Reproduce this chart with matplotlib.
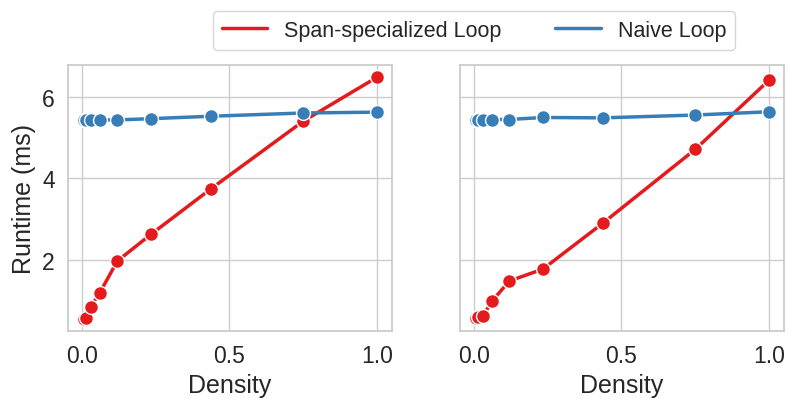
import matplotlib
matplotlib.use("Agg")
import matplotlib.pyplot as plt
import seaborn as sns

sns.set_theme(style="whitegrid", font_scale=1.5)
plt.rcParams['font.family'] = ['Arial', 'Liberation Sans', 'DejaVu Sans']

density = [0.0039, 0.0078, 0.0156, 0.031, 0.0615, 0.121, 0.234, 0.4375, 0.75, 1.0]

left_span = [0.55, 0.56, 0.58, 0.85, 1.19, 1.97, 2.62, 3.74, 5.40, 6.48]
left_naive = [5.43, 5.43, 5.43, 5.43, 5.43, 5.43, 5.46, 5.52, 5.60, 5.62]

right_span = [0.57, 0.58, 0.60, 0.61, 0.98, 1.48, 1.77, 2.90, 4.71, 6.41]
right_naive = [5.43, 5.43, 5.43, 5.43, 5.44, 5.44, 5.49, 5.48, 5.55, 5.63]

series_names = ["Span-specialized Loop", "Naive Loop"]
colors = ["#e41a1c", "#377eb8"]

fig, axes = plt.subplots(1, 2, figsize=(7.97, 4.06), dpi=100, sharey=True)
plt.subplots_adjust(left=68 / 797, right=784 / 797, bottom=1 - 332 / 406,
                    top=1 - 66 / 406, wspace=0.21)

for ax, (span, naive) in zip(axes, [(left_span, left_naive), (right_span, right_naive)]):
    for vals, name, c in zip([span, naive], series_names, colors):
        ax.plot(density, vals, color=c, lw=2.5, marker='o', markersize=10,
                markeredgecolor='white', markeredgewidth=1.0, label=name)
    ax.set_xlabel("Density")
    ax.set_xticks([0.0, 0.5, 1.0])
    for s in ax.spines.values():
        s.set_color('#cccccc')
        s.set_linewidth(1.3)
axes[0].set_ylabel("Runtime (ms)")
axes[0].set_yticks([2, 4, 6])
axes[1].tick_params(axis='y', labelleft=False)

handles = [plt.Line2D([], [], color=c, lw=2.5) for c in colors]
fig.legend(handles, series_names, loc='center', ncol=2, fontsize=15.5,
           bbox_to_anchor=(474 / 797, 1 - 31.5 / 406), frameon=True,
           columnspacing=2.5, handlelength=2.1)

fig.savefig("out.png", dpi=100)
